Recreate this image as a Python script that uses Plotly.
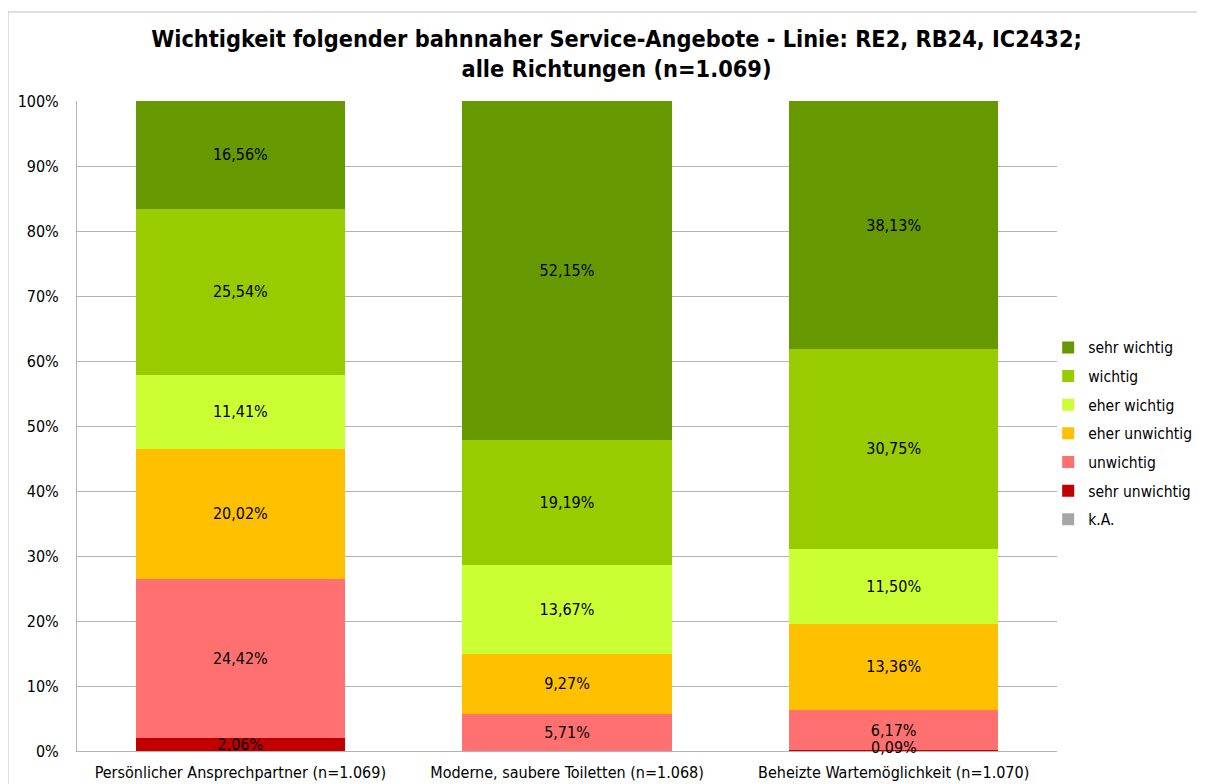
import plotly.graph_objects as go

categories = ["Persönlicher Ansprechpartner (n=1.069)",
              "Moderne, saubere Toiletten (n=1.068)",
              "Beheizte Wartemöglichkeit (n=1.070)"]

series_names = ["k.A.", "sehr unwichtig", "unwichtig", "eher unwichtig",
                "eher wichtig", "wichtig", "sehr wichtig"]
ka = [0.0, 0.0, 0.0]
sehr_unwichtig = [2.06, 0.0, 0.09]
unwichtig = [24.42, 5.71, 6.17]
eher_unwichtig = [20.02, 9.27, 13.36]
eher_wichtig = [11.41, 13.67, 11.50]
wichtig = [25.54, 19.19, 30.75]
sehr_wichtig = [16.56, 52.15, 38.13]
series_values = [ka, sehr_unwichtig, unwichtig, eher_unwichtig,
                 eher_wichtig, wichtig, sehr_wichtig]
colors = ["#A6A6A6", "#C00000", "#FF7171", "#FFC000",
          "#CCFF33", "#99CC00", "#669900"]
y_ticks = list(range(0, 101, 10))
y_ticktext = [f"{v}%" for v in y_ticks]

FONT = "DejaVu Sans Condensed, DejaVu Sans"


def fmt(v):
    return f"{v:.2f}".replace(".", ",") + "%"


fig = go.Figure()
n = len(series_names)
base = [0.0] * len(categories)
small_labels = []
for i, (name, vals, col) in enumerate(zip(series_names, series_values, colors)):
    txt = []
    for j, v in enumerate(vals):
        if v >= 1:
            txt.append(fmt(v))
        else:
            txt.append("")
            if v > 0:
                small_labels.append((categories[j], base[j] + v / 2, fmt(v)))
        base[j] += v
    fig.add_trace(go.Bar(
        x=categories, y=vals, name=name, legendgroup=name, legendrank=n - i,
        marker=dict(color=col, line=dict(width=0)),
        text=txt, textposition="inside", insidetextanchor="middle",
        textfont=dict(family=FONT, size=16, color="black"),
        hoverinfo="skip", cliponaxis=False,
    ))

for cx, cy, t in small_labels:
    fig.add_annotation(x=cx, y=cy, text=t, showarrow=False, yanchor="middle", yshift=3,
                       font=dict(family=FONT, size=16, color="black"))

fig.update_layout(
    barmode="stack", bargap=0.36,
    width=1205, height=784,
    margin=dict(l=69, r=156, t=93, b=41, autoexpand=False),
    paper_bgcolor="white", plot_bgcolor="white",
    font=dict(family=FONT, size=16, color="black"),
    uniformtext=dict(minsize=16, mode="show"),
    title=dict(text="<b>Wichtigkeit folgender bahnnaher Service-Angebote - Linie: RE2, RB24, IC2432;<br>alle Richtungen (n=1.069)</b>",
               x=0.505, xanchor="center", y=0.95, yanchor="middle",
               font=dict(family=FONT, size=23.3, color="black")),
    legend=dict(traceorder="grouped", x=0.991, xanchor="left", y=0.488, yanchor="middle",
                font=dict(family=FONT, size=15.5), itemwidth=30, tracegroupgap=5.5,
                bgcolor="rgba(0,0,0,0)"),
    showlegend=True,
)
fig.update_yaxes(range=[0, 100.02], tickvals=y_ticks, ticktext=y_ticktext, showgrid=True,
                 gridcolor="#B3B3B3", gridwidth=1, showline=True, linecolor="#B3B3B3",
                 ticks="", ticklabelstandoff=14, tickfont=dict(family=FONT, size=16), zeroline=False)
fig.update_xaxes(showline=True, linecolor="#B3B3B3", ticks="", ticklabelstandoff=7,
                 tickfont=dict(family=FONT, size=16))

fig.add_shape(type="line", xref="paper", yref="paper", x0=-0.0704, x1=-0.0704, y0=1.137, y1=-0.06,
              line=dict(color="#BFBFBF", width=1))
fig.add_shape(type="line", xref="paper", yref="paper", x0=-0.0704, x1=1.2, y0=1.137, y1=1.137,
              line=dict(color="#BFBFBF", width=1))

fig.write_html("out.html")
